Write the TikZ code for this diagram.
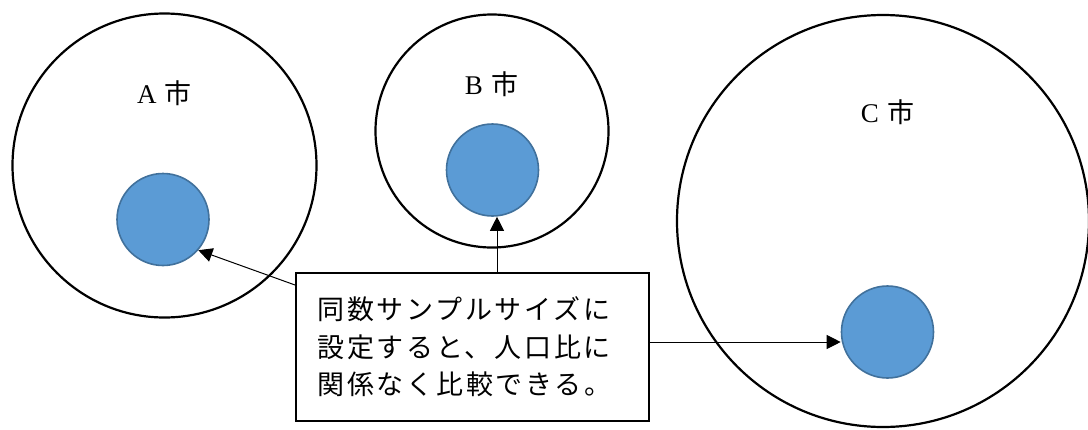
\documentclass[tikz,border=0pt]{standalone}
\usepackage{fontspec}
\setmainfont{Liberation Serif}
\newfontfamily\cjk{Noto Sans CJK JP}
\newfontfamily\cjkbox[LetterSpace=10]{Noto Sans CJK JP}
\usetikzlibrary{arrows.meta,calc}
\definecolor{bluefill}{HTML}{5B9BD5}
\definecolor{blueline}{HTML}{41719C}
\tikzset{
  city/.style={circle, draw=black, line width=2.2pt, inner sep=0pt},
  sample/.style={circle, draw=blueline, fill=bluefill, line width=1.6pt, inner sep=0pt, minimum size=92pt},
  citylabel/.style={font=\fontsize{27}{30}\selectfont, inner sep=0pt},
  notebox/.style={draw=black, line width=2pt, fill=white, text width=310pt, inner xsep=21.5pt,
    minimum height=148pt, align=left, font=\fontsize{27}{37.5}\selectfont\cjkbox},
  arr/.style={-{Triangle[length=14pt,width=14pt]}, line width=1pt}
}
\begin{document}
\begin{tikzpicture}[x=1pt,y=-1pt]
\useasboundingbox (0,0) rectangle (1088,429);
\clip (0,0) rectangle (1088,429);
% outer city circles
\node[city, minimum size=304pt] (ca) at (164.5,165.5) {};
\node[city, minimum size=233pt] (cb) at (492,131) {};
\node[city, minimum size=412pt] (cc) at (883,221) {};
% sample circles
\node[sample] (sa) at (163,219.5) {};
\node[sample] (sb) at (492.5,170) {};
\node[sample] (sc) at (887.5,332) {};
% labels
\node[citylabel] (la) at (164.5,93) {A\hspace{0.3em}{\cjk 市}};
\node[citylabel] (lb) at (491.5,84) {B\hspace{0.3em}{\cjk 市}};
\node[citylabel] (lc) at (887.5,112) {C\hspace{0.3em}{\cjk 市}};
% note box
\node[notebox] (box) at (472.5,347) {同数サンプルサイズに\\設定すると、人口比に\\関係なく比較できる。};
% connectors
\draw[arr] ($(box.north west)+(0,13)$) -- (sa.-41);
\draw[arr] ([xshift=4.5pt]sb.south |- box.north) -- ([xshift=4.5pt]sb.south);
\draw[arr] ([yshift=5pt]box.east) -- ([yshift=5pt]box.east -| sc.west);
\end{tikzpicture}
\end{document}
